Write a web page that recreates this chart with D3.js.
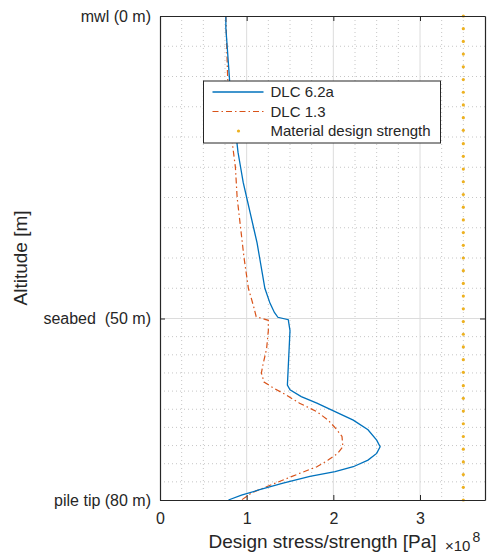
<!DOCTYPE html>
<html>
<head>
<meta charset="utf-8">
<script src="https://cdn.jsdelivr.net/npm/d3@7"></script>
<style>
  body { margin: 0; background: #fff; }
  svg { font-family: "Liberation Sans", Arial, Helvetica, sans-serif; }
  text { white-space: pre; }
</style>
</head>
<body>
<svg id="chart"></svg>
<script>
// altitude below mwl [m] and design stress [x1e8 Pa]
let dlc62Alt = [0, 2, 4, 6, 8, 10, 12.5, 15, 17.5, 20, 22.5, 25, 27.5, 30, 32.5, 35, 37.5, 40, 42.5, 45, 47.5, 49, 49.8,
    50.2, 52, 55, 58, 61, 61.8, 62.9, 64, 65.4, 66.8, 68.4, 70.1, 71.2, 72.3, 73.4, 74.5, 75.3, 76.1, 77.2, 78.3, 79.2, 80];
let dlc62Val = [0.76, 0.76, 0.77, 0.78, 0.79, 0.80, 0.81, 0.83, 0.85, 0.88, 0.90, 0.93, 0.96, 1.00, 1.04, 1.08, 1.12, 1.15, 1.18, 1.21, 1.27, 1.32, 1.36,
    1.48, 1.50, 1.49, 1.48, 1.47, 1.50, 1.63, 1.81, 2.02, 2.23, 2.40, 2.50, 2.54, 2.50, 2.40, 2.23, 2.02, 1.73, 1.42, 1.15, 0.94, 0.79];

let dlc13Alt = [0, 5, 10, 15, 20.5, 25, 30, 35, 40, 45, 48, 49.7,
    50.3, 52, 55, 57.5, 59, 60.5, 61.5, 62.6, 64, 65.4, 66.8, 68.2, 69.5, 71.2, 72.3, 73.4, 74.5, 75.6, 76.7, 77.8, 78.8, 80];
let dlc13Val = [0.76, 0.77, 0.78, 0.80, 0.83, 0.87, 0.89, 0.93, 0.97, 1.02, 1.08, 1.11,
    1.25, 1.25, 1.23, 1.19, 1.17, 1.20, 1.31, 1.45, 1.61, 1.81, 1.94, 2.03, 2.10, 2.11, 2.05, 1.94, 1.81, 1.61, 1.42, 1.23, 1.06, 0.94];

let strengthAlt = [0, 2.1, 4.2, 6.3, 8.4, 10.5, 12.6, 14.7, 16.8, 18.9, 21.1, 23.2, 25.3, 27.4, 29.5, 31.6, 33.7, 35.8, 37.9, 40,
    42.1, 44.2, 46.3, 48.4, 50.5, 52.6, 54.7, 56.8, 58.9, 61.1, 63.2, 65.3, 67.4, 69.5, 71.6, 73.7, 75.8, 77.9, 80];
let strengthVal = 3.5;

let yTicks = [0, 50, 80];
let yTickLabels = ["mwl (0 m)", "seabed  (50 m)", "pile tip (80 m)"];
let xTicks = [0, 1, 2, 3];
let seriesNames = ["DLC 6.2a", "DLC 1.3", "Material design strength"];
let colors = ["#0072BD", "#D95319", "#EDB120"];

let width = 491, height = 556,
    mLeft = 160, mRight = 485, mTop = 16, mBottom = 500,
    ink = "#262626";

let svg = d3.select("#chart").attr("width", width).attr("height", height);
let xScale = d3.scaleLinear([0, 3.75], [mLeft, mRight]),
    yScale = d3.scaleLinear([0, 80], [mTop, mBottom]);

// grid: minor dotted, major solid
let g = svg.append("g");
let xMinor = d3.range(0.25, 3.75, 0.25).filter(v => Math.abs(v - Math.round(v)) > 0.01);
let yMinor = d3.range(5, 50, 5).concat(d3.range(53, 80, 3));
g.selectAll(".xminor").data(xMinor).enter().append("line")
    .attr("x1", d => xScale(d)).attr("x2", d => xScale(d))
    .attr("y1", mTop).attr("y2", mBottom)
    .attr("stroke", "#b8b8b8").attr("stroke-width", 0.8).attr("stroke-dasharray", "1,3");
g.selectAll(".yminor").data(yMinor).enter().append("line")
    .attr("x1", mLeft).attr("x2", mRight)
    .attr("y1", d => yScale(d)).attr("y2", d => yScale(d))
    .attr("stroke", "#b8b8b8").attr("stroke-width", 0.8).attr("stroke-dasharray", "1,3");
g.selectAll(".xmajor").data(xTicks.slice(1)).enter().append("line")
    .attr("x1", d => xScale(d)).attr("x2", d => xScale(d))
    .attr("y1", mTop).attr("y2", mBottom)
    .attr("stroke", "#dcdcdc").attr("stroke-width", 1);
g.selectAll(".ymajor").data([50]).enter().append("line")
    .attr("x1", mLeft).attr("x2", mRight)
    .attr("y1", d => yScale(d)).attr("y2", d => yScale(d))
    .attr("stroke", "#dcdcdc").attr("stroke-width", 1);

// curves
let line = d3.line().x(d => xScale(d[1])).y(d => yScale(d[0]));
svg.append("path")
    .datum(d3.zip(dlc13Alt, dlc13Val))
    .attr("d", line).attr("fill", "none")
    .attr("stroke", colors[1]).attr("stroke-width", 1.2)
    .attr("stroke-dasharray", "6,3,1.5,3");
svg.append("path")
    .datum(d3.zip(dlc62Alt, dlc62Val))
    .attr("d", line).attr("fill", "none")
    .attr("stroke", colors[0]).attr("stroke-width", 1.3);
svg.selectAll(".strength").data(strengthAlt).enter().append("circle")
    .attr("cx", xScale(strengthVal)).attr("cy", d => yScale(d))
    .attr("r", 1.6).attr("fill", colors[2]);

// axes
let xAxis = d3.axisBottom(xScale).tickValues(xTicks).tickFormat(d3.format("d"))
    .tickSizeInner(-5).tickSizeOuter(0).tickPadding(13);
let yAxis = d3.axisLeft(yScale).tickValues(yTicks).tickFormat((d, i) => yTickLabels[i])
    .tickSizeInner(-5).tickSizeOuter(0).tickPadding(9);
let xTop = d3.axisTop(xScale).tickValues(xTicks).tickSizeInner(-5).tickSizeOuter(0).tickFormat("");
let yRight = d3.axisRight(yScale).tickValues(yTicks).tickSizeInner(-5).tickSizeOuter(0).tickFormat("");

svg.append("g").attr("transform", "translate(0," + mBottom + ")").call(xAxis);
svg.append("g").attr("transform", "translate(" + mLeft + ",0)").call(yAxis);
svg.append("g").attr("transform", "translate(0," + mTop + ")").call(xTop);
svg.append("g").attr("transform", "translate(" + mRight + ",0)").call(yRight);
svg.selectAll(".domain").attr("stroke", ink).attr("stroke-width", 1.2);
svg.selectAll(".tick line").attr("stroke", ink);
svg.selectAll(".tick text").attr("fill", ink).style("font-size", "16px")
    .style("font-family", "'Liberation Sans', Arial, Helvetica, sans-serif");

// axis labels
svg.append("text")
    .attr("x", (mLeft + mRight) / 2).attr("y", 548)
    .attr("text-anchor", "middle").attr("fill", ink).style("font-size", "19px")
    .text("Design stress/strength [Pa]");
let exp = svg.append("text").attr("x", 445).attr("y", 551).attr("fill", ink).style("font-size", "15px");
exp.append("tspan").text("\u00d710");
exp.append("tspan").attr("dx", 2).attr("dy", -9).style("font-size", "14px").text("8");
svg.append("text")
    .attr("transform", "translate(27," + ((mTop + mBottom) / 2) + ") rotate(-90)")
    .attr("text-anchor", "middle").attr("fill", ink).style("font-size", "19px")
    .text("Altitude [m]");

// legend
let lg = svg.append("g").attr("transform", "translate(203.5,81)");
lg.append("rect").attr("width", 237).attr("height", 62)
    .attr("fill", "#fff").attr("stroke", ink).attr("stroke-width", 1);
let rows = lg.selectAll(".row").data(seriesNames).enter().append("g")
    .attr("transform", (d, i) => "translate(0," + (11 + i * 19.5) + ")");
rows.append("text").attr("x", 67).attr("dy", "0.35em")
    .attr("fill", ink).style("font-size", "15px").text(d => d);
rows.filter((d, i) => i < 2).append("line")
    .attr("x1", 9).attr("x2", 60)
    .attr("stroke", (d, i) => colors[i]).attr("stroke-width", (d, i) => i == 0 ? 1.3 : 1.2)
    .attr("stroke-dasharray", (d, i) => i == 1 ? "6,3,1.5,3" : null);
rows.filter((d, i) => i == 2).append("circle")
    .attr("cx", 35).attr("r", 1.6).attr("fill", colors[2]);
</script>
</body>
</html>
